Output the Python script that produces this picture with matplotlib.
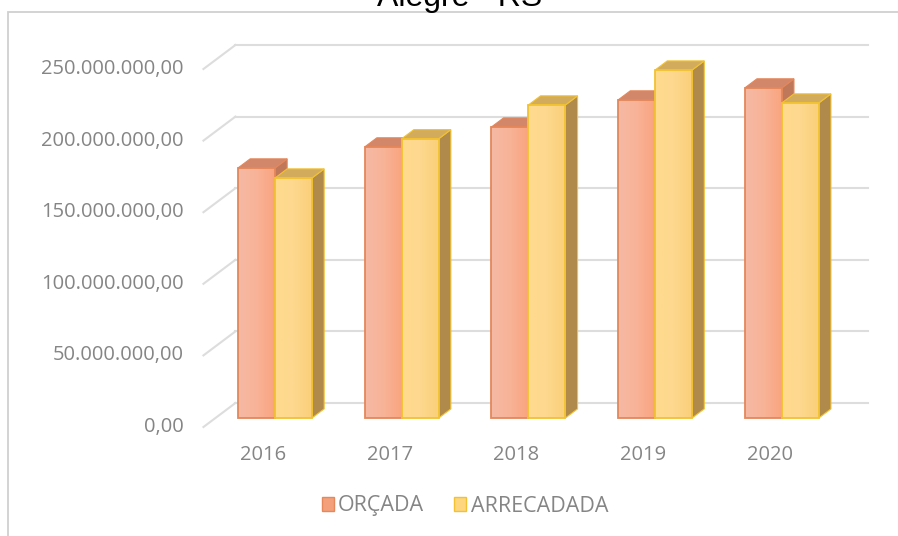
import numpy as np
import matplotlib.pyplot as plt
from matplotlib.patches import Polygon, Rectangle, Patch
from matplotlib.colors import LinearSegmentedColormap

# receita orçada x arrecadada (R$)
anos = ['2016', '2017', '2018', '2019', '2020']
orcada = [174.6e6, 189.3e6, 203.2e6, 222.1e6, 230.5e6]
arrecadada = [167.6e6, 195.0e6, 218.6e6, 243.0e6, 220.0e6]
ticks = [0, 50e6, 100e6, 150e6, 200e6, 250e6]

W, H = 898, 536

# pixel layout of the pseudo-3D chart
CAT_PX = 126.7       # px between categories
VAL_PX = 1.432e-6    # px per real
X0_PX = 275          # px of first category centre
ZERO_PX = 418        # px (from top) of value 0 on the bar fronts
DX = 32 / CAT_PX     # full floor depth, x
DY = 24 / VAL_PX     # full floor depth, y
F_BAR = 0.375        # depth of bar front face
BAR_DEPTH = 0.38
BAR_W = 0.292
XL, XR = -0.47, 4.52

GRID = '#DDDDDD'
TXT = '#858585'


def proj(x, v, f):
    return x + (f - F_BAR) * DX, v + (f - F_BAR) * DY


def brl(v):
    s = f'{v:,.2f}'
    return s.replace(',', 'X').replace('.', ',').replace('X', '.')


fig = plt.figure(figsize=(W / 100, H / 100), dpi=100)
fig.patch.set_facecolor('white')

# chart area border
fig.patches.append(Rectangle((8 / W, -0.1), 1.0, 1 - 12 / H + 0.1,
                             transform=fig.transFigure, fill=False,
                             edgecolor='#D0D0D0', lw=1.3))

fig.text(460 / W, 1 - 6 / H, 'Alegre - RS', ha='center', va='baseline',
         fontsize=23, family='Liberation Sans', color='black')

ax = fig.add_axes([200 / W, 96 / H, 680 / W, 410 / H])
ax.axis('off')
xlim = ((200 - X0_PX) / CAT_PX, (880 - X0_PX) / CAT_PX)
ylim = ((ZERO_PX - 440) / VAL_PX, (ZERO_PX - 30) / VAL_PX)

# back wall gridlines and left wall diagonals
for v in ticks:
    xa, ya = proj(XL, v, 1)
    xb, yb = proj(XR, v, 1)
    ax.plot([xa, xb], [ya, yb], color=GRID, lw=1.5, zorder=1)
    xf, yf = proj(XL, v, 0)
    ax.plot([xf, xa], [yf, ya], color=GRID, lw=1.5, zorder=1)
    ax.annotate(brl(v), (xf, yf), xytext=(-20, 0), textcoords='offset pixels',
                ha='right', va='center', fontsize=14.5, color=TXT,
                family='Open Sans')

for i, ano in enumerate(anos):
    xf, yf = proj(i, 0, 0)
    ax.annotate(ano, (xf, yf), xytext=(0, -28), textcoords='offset pixels',
                ha='center', va='center', fontsize=14.5, color=TXT,
                family='Open Sans')

series = [
    dict(vals=orcada, off=-BAR_W / 2, grad=['#F5B9A4', '#F8B398', '#FAA47F'],
         edge='#E4875A', top='#D2866A', side='#C0785A', z=3),
    dict(vals=arrecadada, off=BAR_W / 2, grad=['#FFDB8E', '#FDD88E', '#FBCF7A'],
         edge='#F2C232', top='#D2AC5C', side='#B08A4A', z=4),
]

xs = np.arange(len(anos))
bdx, bdy = BAR_DEPTH * DX, BAR_DEPTH * DY
for s in series:
    cmap = LinearSegmentedColormap.from_list('g', s['grad'])
    bars = ax.bar(xs + s['off'], s['vals'], width=BAR_W, color=s['grad'][1],
                  edgecolor='none', zorder=s['z'])
    for b in bars:
        x0, x1 = b.get_x(), b.get_x() + b.get_width()
        h = b.get_height()
        side = Polygon([(x1, 0), (x1, h), (x1 + bdx, h + bdy), (x1 + bdx, bdy)],
                       closed=True, facecolor=s['side'], edgecolor=s['edge'],
                       lw=0.8, zorder=s['z'] - 0.2)
        top = Polygon([(x0, h), (x1, h), (x1 + bdx, h + bdy), (x0 + bdx, h + bdy)],
                      closed=True, facecolor=s['top'], edgecolor=s['edge'],
                      lw=0.8, zorder=s['z'] - 0.1)
        ax.add_patch(side)
        ax.add_patch(top)
        grad = np.linspace(0, 1, 64).reshape(1, -1)
        im = ax.imshow(grad, extent=[x0, x1, 0, h], aspect='auto', cmap=cmap,
                       zorder=s['z'] + 0.05, interpolation='bilinear')
        im.set_clip_path(b)
        ax.add_patch(Rectangle((x0, 0), x1 - x0, h, fill=False,
                               edgecolor=s['edge'], lw=1.3,
                               zorder=s['z'] + 0.1))

ax.set_xlim(*xlim)
ax.set_ylim(*ylim)

handles = [Patch(facecolor='#F4A07A', edgecolor='#E5895C', label='ORÇADA'),
           Patch(facecolor='#FDD67E', edgecolor='#F2C232', label='ARRECADADA')]
leg = fig.legend(handles=handles, loc='center', ncol=2, frameon=False,
                 bbox_to_anchor=(465 / W, 1 - 506 / H),
                 handlelength=0.55, handleheight=0.6, handletextpad=0.2,
                 columnspacing=1.4, prop={'family': 'Open Sans', 'size': 15.5})
for t in leg.get_texts():
    t.set_color(TXT)

fig.savefig('out.png', dpi=100, facecolor='white')
